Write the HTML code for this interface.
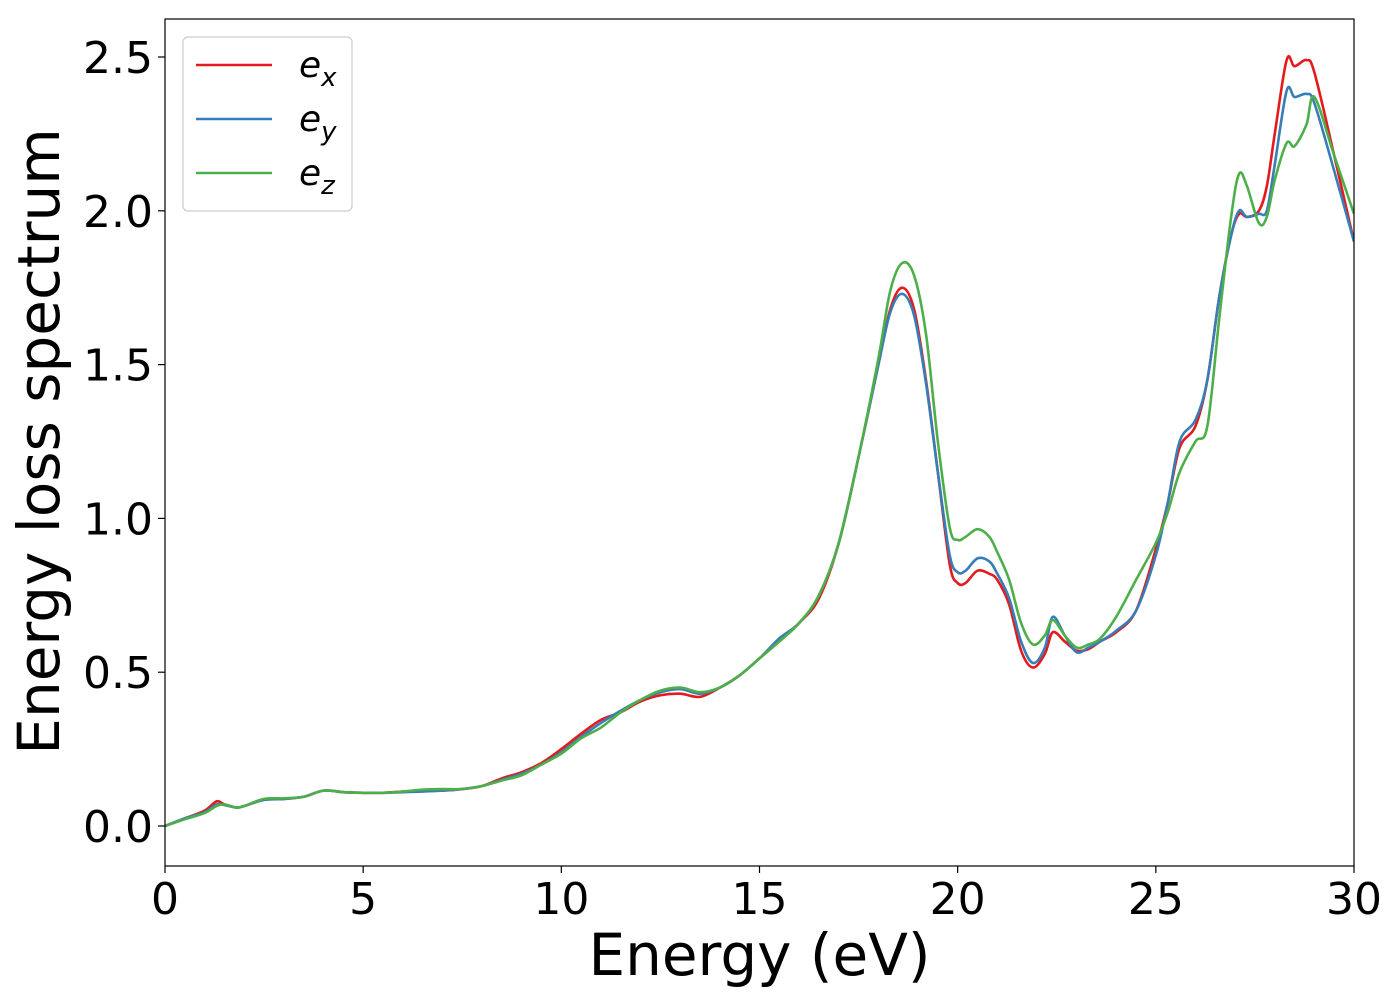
<!DOCTYPE html>
<html><head><meta charset="utf-8"><style>
html,body{margin:0;padding:0;background:#fff;}
svg{display:block;font-family:"DejaVu Sans","Liberation Sans",sans-serif;}
</style></head><body>
<svg id="chart" width="1400" height="1000" viewBox="0 0 1400 1000">
<g id="plot"></g>
</svg>
<script>
const energies=[0,0.5,1,1.3,1.5,1.8,2,2.5,3,3.5,4,4.5,5,5.5,6,6.5,7,7.5,8,8.5,9,9.5,10,10.5,11,11.5,12,12.5,13,13.5,14,14.5,15,15.5,16,16.5,17,17.5,18,18.3,18.6,18.9,19.2,19.5,19.8,20,20.2,20.5,20.8,21,21.3,21.6,21.9,22.2,22.4,22.7,23,23.3,23.6,24,24.5,25,25.3,25.6,26,26.3,26.6,26.9,27.1,27.3,27.6,27.8,28,28.3,28.5,28.8,29,29.5,30];
const exValues=[0,.025,.05,.08,.07,.06,.065,.085,.088,.095,.115,.11,.108,.108,.112,.115,.115,.12,.13,.155,.175,.205,.25,.30,.345,.37,.405,.425,.43,.42,.45,.49,.545,.6,.66,.74,.92,1.2,1.5,1.68,1.75,1.68,1.45,1.15,.85,.79,.79,.83,.82,.80,.72,.57,.515,.56,.63,.60,.57,.575,.6,.63,.70,.90,1.05,1.23,1.30,1.45,1.72,1.92,1.99,1.98,2.00,2.08,2.25,2.49,2.47,2.49,2.45,2.18,1.90];
const eyValues=[0,.025,.045,.07,.068,.06,.065,.085,.088,.095,.115,.11,.108,.108,.11,.112,.115,.12,.13,.15,.17,.2,.24,.29,.335,.375,.41,.435,.445,.43,.45,.49,.545,.61,.66,.75,.92,1.2,1.5,1.67,1.73,1.66,1.44,1.15,.88,.825,.83,.87,.86,.82,.74,.6,.53,.58,.68,.62,.565,.58,.6,.635,.70,.88,1.05,1.25,1.32,1.45,1.72,1.92,2.0,1.98,1.99,2.0,2.15,2.39,2.37,2.38,2.35,2.13,1.90];
const ezValues=[0,.022,.042,.065,.07,.06,.065,.088,.09,.095,.115,.11,.108,.108,.112,.118,.12,.12,.13,.148,.165,.2,.235,.285,.32,.37,.41,.44,.45,.435,.45,.49,.545,.6,.66,.75,.92,1.2,1.52,1.74,1.83,1.79,1.6,1.25,.97,.93,.94,.965,.94,.89,.80,.66,.59,.62,.67,.62,.58,.59,.61,.68,.80,.92,1.02,1.15,1.25,1.30,1.65,1.98,2.12,2.08,1.96,1.98,2.1,2.22,2.21,2.28,2.37,2.18,1.99];
const xTicks=[0,5,10,15,20,25,30];
const xTickLabels=["0","5","10","15","20","25","30"];
const yTicks=[0,0.5,1,1.5,2,2.5];
const yTickLabels=["0.0","0.5","1.0","1.5","2.0","2.5"];

const L=165,R=1354,T=19,B=866;
const xMin=0,xMax=30,y0px=826,yPerUnit=307.6;
const X=v=>L+(v-xMin)/(xMax-xMin)*(R-L);
const Y=v=>y0px-v*yPerUnit;
const NS="http://www.w3.org/2000/svg";
const svg=document.getElementById('chart');
function mk(tag,attrs,parent){const e=document.createElementNS(NS,tag);for(const k in attrs)e.setAttribute(k,attrs[k]);(parent||svg).appendChild(e);return e;}

const defs=mk('defs',{});
const cp=mk('clipPath',{id:'clip'},defs);
mk('rect',{x:L,y:T,width:R-L,height:B-T},cp);

function pathFor(xs,ys){
  const p=xs.map((x,i)=>[X(x),Y(ys[i])]);
  let d=`M${p[0][0]},${p[0][1]}`;
  for(let i=0;i<p.length-1;i++){
    const p0=p[i-1]||p[i],p1=p[i],p2=p[i+1],p3=p[i+2]||p2;
    const c1=[p1[0]+(p2[0]-p0[0])/6,p1[1]+(p2[1]-p0[1])/6];
    const c2=[p2[0]-(p3[0]-p1[0])/6,p2[1]-(p3[1]-p1[1])/6];
    d+=`C${c1[0]},${c1[1]} ${c2[0]},${c2[1]} ${p2[0]},${p2[1]}`;
  }
  return d;
}
const series=[["ex",exValues,"#e41a1c"],["ey",eyValues,"#377eb8"],["ez",ezValues,"#4daf4a"]];
const g=mk('g',{'clip-path':'url(#clip)'});


for(const [n,vals,c] of series){
  const pth=mk('path',{d:pathFor(energies,vals),fill:'none',stroke:c,'stroke-width':2.6,'stroke-linejoin':'round'},g);
  
  
}
const fr=mk('rect',{x:L,y:T,width:R-L,height:B-T,fill:'none',stroke:'#000','stroke-width':1.2});


xTicks.forEach((t,i)=>{
  const tk=mk('line',{x1:X(t),x2:X(t),y1:B,y2:B+7,stroke:'#000','stroke-width':1.2});
  
  
  const tx=mk('text',{x:X(t),y:B+48,'text-anchor':'middle','font-size':44});
  tx.textContent=xTickLabels[i];
  
  
});
yTicks.forEach((t,i)=>{
  const tk=mk('line',{x1:L-7,x2:L,y1:Y(t),y2:Y(t),stroke:'#000','stroke-width':1.2});
  
  
  const tx=mk('text',{x:L-12,y:Y(t)+16,'text-anchor':'end','font-size':44});
  tx.textContent=yTickLabels[i];
  
  
});
const xt=mk('text',{x:(L+R)/2,y:975,'text-anchor':'middle','font-size':58});
xt.textContent='Energy (eV)';


const yt=mk('text',{x:0,y:0,'text-anchor':'middle','font-size':58,transform:`translate(59,${(T+B)/2-1}) rotate(-90)`});
yt.textContent='Energy loss spectrum';


const lg=mk('g',{});


mk('rect',{x:183,y:37,width:169,height:174,rx:5,fill:'#fff',stroke:'#ccc','stroke-width':1.2},lg);
const labs=["x","y","z"];
series.forEach(([n,v,c],i)=>{
  const yy=65+i*54;
  const ln=mk('line',{x1:196,x2:272,y1:yy,y2:yy,stroke:c,'stroke-width':2.6},lg);
  
  
  const tx=mk('text',{x:299,y:yy+12,'font-size':36,'font-style':'italic'},lg);
  
  
  tx.appendChild(document.createTextNode('e'));
  const ts=mk('tspan',{dy:9,'font-size':26},tx);
  ts.textContent=labs[i];
});
</script>
</body></html>
